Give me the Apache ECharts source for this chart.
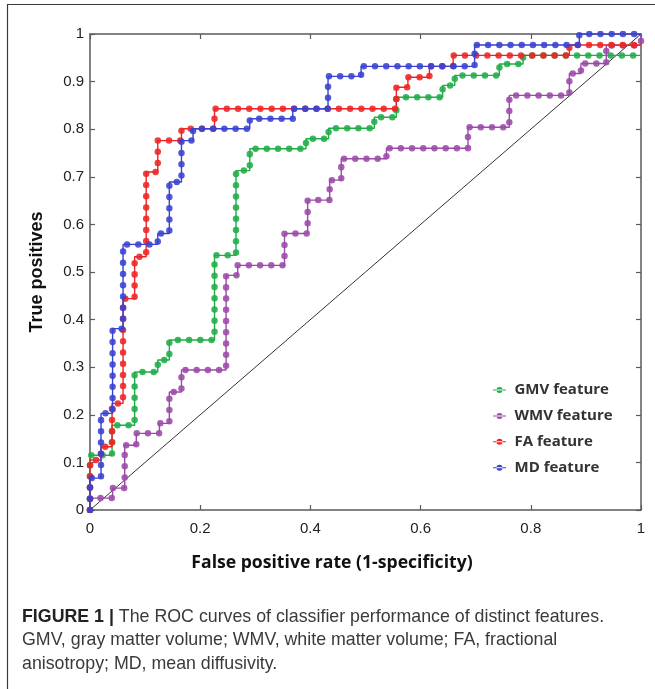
<!DOCTYPE html>
<html>
<head>
<meta charset="utf-8">
<script src="https://cdn.jsdelivr.net/npm/echarts@6/dist/echarts.min.js"></script>
<style>
html,body{margin:0;padding:0;background:#fff;}
#chart{width:655px;height:689px;}
</style>
</head>
<body>
<div id="chart"></div>
<script>
// ---- data (corner points of the stepwise ROC curves: [FPR, TPR]) ----
const seriesNames = ['GMV feature', 'WMV feature', 'FA feature', 'MD feature'];
const seriesColors = ['#20ad48', '#9c4aa8', '#ee2424', '#3a42cf'];

const gmvPoints = [[0,0],[0,0.115],[0.040,0.115],[0.040,0.178],[0.081,0.178],[0.081,0.290],[0.123,0.290],[0.123,0.315],[0.144,0.315],[0.144,0.357],[0.226,0.357],[0.226,0.535],[0.265,0.535],[0.265,0.713],[0.290,0.713],[0.290,0.759],[0.392,0.759],[0.392,0.780],[0.433,0.780],[0.433,0.802],[0.516,0.802],[0.516,0.825],[0.556,0.825],[0.556,0.867],[0.640,0.867],[0.640,0.892],[0.662,0.892],[0.662,0.913],[0.743,0.913],[0.743,0.937],[0.786,0.937],[0.786,0.955],[1,0.955]];

const wmvPoints = [[0,0],[0,0.025],[0.041,0.025],[0.041,0.046],[0.063,0.046],[0.063,0.136],[0.084,0.136],[0.084,0.161],[0.126,0.161],[0.126,0.182],[0.144,0.182],[0.144,0.248],[0.166,0.248],[0.166,0.294],[0.247,0.294],[0.247,0.493],[0.268,0.493],[0.268,0.514],[0.353,0.514],[0.353,0.581],[0.395,0.581],[0.395,0.651],[0.435,0.651],[0.435,0.693],[0.456,0.693],[0.456,0.738],[0.538,0.738],[0.538,0.760],[0.686,0.760],[0.686,0.804],[0.761,0.804],[0.761,0.871],[0.870,0.871],[0.870,0.917],[0.891,0.917],[0.891,0.938],[0.937,0.938],[0.937,0.976],[1,0.976],[1,1]];

const faPoints = [[0,0],[0,0.105],[0.020,0.105],[0.020,0.133],[0.040,0.133],[0.040,0.224],[0.060,0.224],[0.060,0.444],[0.081,0.444],[0.081,0.532],[0.102,0.532],[0.102,0.710],[0.123,0.710],[0.123,0.776],[0.166,0.776],[0.166,0.801],[0.226,0.801],[0.226,0.843],[0.556,0.843],[0.556,0.888],[0.577,0.888],[0.577,0.909],[0.616,0.909],[0.616,0.932],[0.659,0.932],[0.659,0.955],[0.870,0.955],[0.870,0.977],[1,0.977]];

const mdPoints = [[0,0],[0,0.067],[0.020,0.067],[0.020,0.203],[0.041,0.203],[0.041,0.381],[0.060,0.381],[0.060,0.558],[0.123,0.558],[0.123,0.581],[0.144,0.581],[0.144,0.689],[0.166,0.689],[0.166,0.776],[0.187,0.776],[0.187,0.801],[0.290,0.801],[0.290,0.822],[0.368,0.822],[0.368,0.843],[0.432,0.843],[0.432,0.911],[0.492,0.911],[0.492,0.932],[0.698,0.932],[0.698,0.977],[0.888,0.977],[0.888,1],[1,1]];

const chancePoints = [[0,0],[1,1]];

const xTickValues = [0, 0.2, 0.4, 0.6, 0.8, 1];
const yTickValues = [0, 0.1, 0.2, 0.3, 0.4, 0.5, 0.6, 0.7, 0.8, 0.9, 1];

const xTitle = 'False positive rate (1-specificity)';
const yTitle = 'True positives';
const captionLines = [
  ['FIGURE 1 |', ' The ROC curves of classifier performance of distinct features.'],
  ['', 'GMV, gray matter volume; WMV, white matter volume; FA, fractional'],
  ['', 'anisotropy; MD, mean diffusivity.']
];

// ---- chart ----
const chart = echarts.init(document.getElementById('chart'), null, {renderer: 'canvas'});
const allPoints = [gmvPoints, wmvPoints, faPoints, mdPoints];
const FONT = '"Liberation Sans", Arial, sans-serif';
const FONT2 = '"Open Sans", "Liberation Sans", sans-serif';
const axisColor = '#5a5a5a';

const series = [];
series.push({
  name: 'chance', type: 'line', data: chancePoints, symbol: 'none',
  lineStyle: {color: '#333', width: 1}, silent: true, z: 1
});
allPoints.forEach((pts, i) => {
  series.push({
    name: seriesNames[i], type: 'line', data: pts, symbol: 'none',
    itemStyle: {color: seriesColors[i]},
    lineStyle: {color: seriesColors[i], width: 1.4}, z: 2 + i
  });
  series.push({
    name: seriesNames[i], type: 'line', data: pts, symbol: 'none',
    itemStyle: {color: seriesColors[i]},
    lineStyle: {color: seriesColors[i], width: 6.5, type: [0.01, 11.2], cap: 'round', opacity: 0.88}, z: 2 + i
  });
});

const legendIcon = 'path://M0,2.5L13,2.5L13,3.5L0,3.5Z M3.5,3A3,3 0 1,0 9.5,3A3,3 0 1,0 3.5,3Z';

const axisCommon = {
  type: 'value', min: 0, max: 1,
  splitLine: {show: false},
  axisLine: {show: true, onZero: false, lineStyle: {color: axisColor, width: 1.5}},
  axisTick: {show: true, inside: true, length: 5, lineStyle: {color: axisColor, width: 1.2}}
};

const graphics = [
  {type: 'polyline', shape: {points: [[7.5, 689], [7.5, 4.5], [655, 4.5]]}, style: {stroke: '#3a3a3a', lineWidth: 1.2, fill: null}, silent: true},
  {type: 'text', x: 37, y: 272, rotation: Math.PI / 2,
   style: {text: yTitle, font: 'bold 18px ' + FONT, fill: '#111', align: 'center', verticalAlign: 'middle'}},
  {type: 'text', x: 332, y: 563,
   style: {text: xTitle, font: 'bold 17.6px ' + FONT2, fill: '#111', align: 'center', verticalAlign: 'middle'}}
];
captionLines.forEach((ln, i) => {
  graphics.push({
    type: 'text', x: 22, y: 617 + i * 23.5,
    style: {
      text: (ln[0] ? '{b|' + ln[0] + '}' : '') + '{n|' + ln[1] + '}',
      align: 'left', verticalAlign: 'middle',
      rich: {
        b: {font: 'bold 17.8px ' + FONT, fill: '#222'},
        n: {font: '17.8px ' + FONT, fill: '#3a3a3a'}
      }
    }
  });
});

chart.setOption({
  animation: false,
  backgroundColor: '#fff',
  grid: {left: 90, right: 14, top: 34, bottom: 179, containLabel: false},
  xAxis: [
    Object.assign({}, axisCommon, {
      position: 'bottom', interval: 0.2,
      axisLabel: {show: true, margin: 11, fontSize: 15, color: '#222', fontFamily: FONT,
        formatter: v => xTickValues.indexOf(Math.round(v * 10) / 10) >= 0 ? String(Math.round(v * 10) / 10) : ''}
    }),
    Object.assign({}, axisCommon, {position: 'top', interval: 0.2, axisLabel: {show: false}})
  ],
  yAxis: [
    Object.assign({}, axisCommon, {
      position: 'left', interval: 0.1,
      axisLabel: {show: true, margin: 6, fontSize: 15, color: '#222', fontFamily: FONT,
        formatter: v => yTickValues.indexOf(Math.round(v * 10) / 10) >= 0 ? String(Math.round(v * 10) / 10) : ''}
    }),
    Object.assign({}, axisCommon, {position: 'right', interval: 0.1, axisLabel: {show: false}})
  ],
  legend: {
    orient: 'vertical', left: 488, top: 377,
    data: seriesNames.map(n => ({name: n, icon: legendIcon})),
    itemWidth: 14, itemHeight: 6, itemGap: 9.9,
    textStyle: {fontSize: 15, fontWeight: 'bold', color: '#333', fontFamily: FONT2, lineHeight: 16, padding: [0, 0, 0, 3]},
    selectedMode: false
  },
  graphic: graphics,
  series: series
});
</script>
</body>
</html>
